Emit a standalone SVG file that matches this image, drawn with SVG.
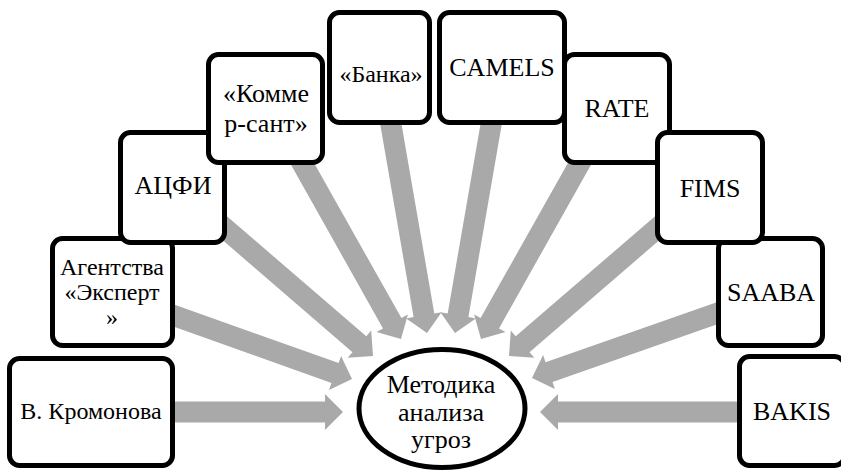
<svg xmlns="http://www.w3.org/2000/svg" width="841" height="476" viewBox="0 0 841 476">
<style>
.box{fill:#fff;stroke:#000;stroke-width:5}
.arr{fill:#A9A9A9;stroke:none}
text{font-family:"Liberation Serif","Times New Roman","DejaVu Serif",serif;fill:#000;text-anchor:middle}
.t26{font-size:26px}
.t25{font-size:25px}
.t24{font-size:24px}
</style>
<rect width="841" height="476" fill="#fff"/>
<g id="connectors">
<polygon class="arr" points="170,401.5 325,401.5 325,394 343,412 325,430 325,422.5 170,422.5"/>
<polygon class="arr" points="162.1,322.5 331.5,382.9 329,389.9 352,379 341.1,356 338.6,363.1 169.1,302.7"/>
<polygon class="arr" points="206,225.8 352.5,352.2 347.6,357.8 373,356 371.2,330.6 366.3,336.3 219.7,210"/>
<polygon class="arr" points="285.5,155 383,328.4 376.5,332.1 401,339 407.9,314.5 401.4,318.1 303.8,144.7"/>
<polygon class="arr" points="378.1,112 413.6,317.1 406.2,318.4 427,333 441.6,312.2 434.3,313.5 398.8,108.4"/>
<polygon class="arr" points="503.9,112 468.4,317.1 475.8,318.4 455,333 440.4,312.2 447.7,313.5 483.2,108.4"/>
<polygon class="arr" points="596.5,155 499,328.4 505.5,332.1 481,339 474.1,314.5 480.6,318.1 578.2,144.7"/>
<polygon class="arr" points="676,225.8 529.5,352.2 534.4,357.8 509,356 510.8,330.6 515.7,336.3 662.3,210"/>
<polygon class="arr" points="730.9,319.6 552.5,382 554.9,389.1 532,378 543.1,355.1 545.5,362.2 723.9,299.8"/>
<polygon class="arr" points="745,401.5 558,401.5 558,394 540,412 558,430 558,422.5 745,422.5"/>
</g>
<g id="kromonova">
<rect class="box" x="9.5" y="358.5" width="163" height="107" rx="10"/>
<text class="t24" x="91" y="419">В. Кромонова</text>
</g>
<g id="agentstva">
<rect class="box" x="52.5" y="238.5" width="120" height="107" rx="10"/>
<text class="t24" x="112" y="275">Агентства</text>
<text class="t24" x="112" y="300">«Эксперт</text>
<text class="t24" x="112" y="325">»</text>
</g>
<g id="acfi">
<rect class="box" x="120.5" y="132.5" width="104" height="110" rx="10"/>
<text class="t26" x="173" y="194">АЦФИ</text>
</g>
<g id="kommersant">
<rect class="box" x="208.5" y="54.5" width="114" height="108" rx="10"/>
<text class="t26" x="266" y="102">«Комме</text>
<text class="t26" x="266" y="132">р-сант»</text>
</g>
<g id="banka">
<rect class="box" x="329.5" y="12.5" width="100" height="110" rx="10"/>
<text class="t24" x="381" y="82">«Банка»</text>
</g>
<g id="rate">
<rect class="box" x="564.5" y="54.5" width="105" height="108" rx="10"/>
<text class="t26" x="617" y="117">RATE</text>
</g>
<g id="camels">
<rect class="box" x="439.5" y="12.5" width="125" height="110" rx="10"/>
<text class="t26" x="502" y="76">CAMELS</text>
</g>
<g id="saaba">
<rect class="box" x="718.5" y="238.5" width="104" height="107" rx="10"/>
<text class="t26" x="771" y="301">SAABA</text>
</g>
<g id="fims">
<rect class="box" x="657.5" y="132.5" width="105" height="110" rx="10"/>
<text class="t26" x="710" y="197">FIMS</text>
</g>
<g id="bakis">
<rect class="box" x="739.5" y="356.5" width="105" height="109" rx="10"/>
<text class="t26" x="792" y="420">BAKIS</text>
</g>
<g id="center">
<ellipse class="box" cx="442" cy="408.5" rx="83" ry="59"/>
<text class="t26" x="441" y="393">Методика</text>
<text class="t26" x="441" y="421">анализа</text>
<text class="t26" x="441" y="448">угроз</text>
</g>
</svg>
